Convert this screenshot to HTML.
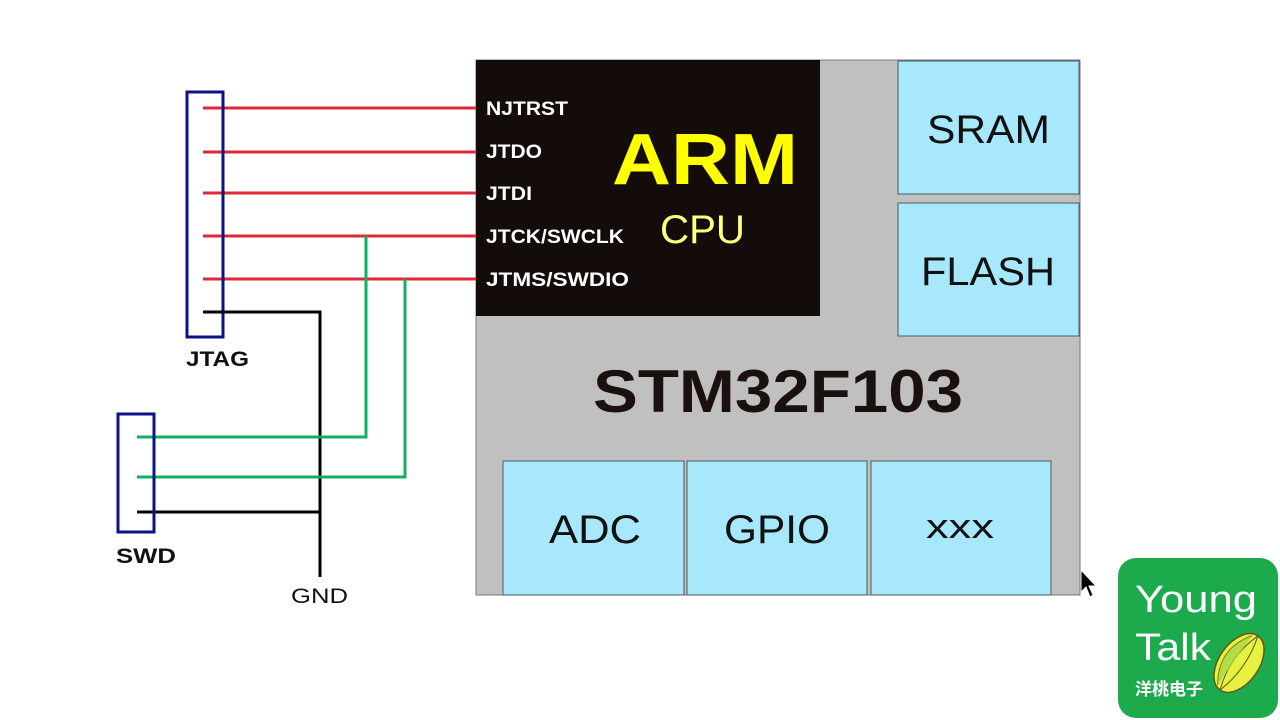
<!DOCTYPE html>
<html><head><meta charset="utf-8"><style>
html,body{margin:0;padding:0;background:#fff;}
svg{display:block;}
</style></head><body>
<svg width="1280" height="720" viewBox="0 0 1280 720" xmlns="http://www.w3.org/2000/svg" font-family="Liberation Sans, DejaVu Sans, sans-serif">
<rect width="1280" height="720" fill="#fff"/>
<!-- chip -->
<rect x="476" y="60" width="604" height="535" fill="#c0c0c0" stroke="#777" stroke-width="1"/>
<rect x="476" y="60" width="344" height="256" fill="#140c0a"/>
<rect x="898" y="61" width="181" height="133" fill="#a8e8fc" stroke="#4a5a60" stroke-width="1"/>
<rect x="898" y="203" width="181" height="133" fill="#a8e8fc" stroke="#4a5a60" stroke-width="1"/>
<rect x="503" y="461" width="181" height="134" fill="#a8e8fc" stroke="#4a5a60" stroke-width="1"/>
<rect x="687" y="461" width="180" height="134" fill="#a8e8fc" stroke="#4a5a60" stroke-width="1"/>
<rect x="871" y="461" width="180" height="134" fill="#a8e8fc" stroke="#4a5a60" stroke-width="1"/>
<g fill="#111" font-size="40">
<text x="927" y="143" textLength="123" lengthAdjust="spacingAndGlyphs">SRAM</text>
<text x="921" y="285" textLength="134" lengthAdjust="spacingAndGlyphs">FLASH</text>
<text x="549" y="543" textLength="92" lengthAdjust="spacingAndGlyphs">ADC</text>
<text x="724" y="543" textLength="106" lengthAdjust="spacingAndGlyphs">GPIO</text>
<text x="926" y="538" font-size="34" textLength="68" lengthAdjust="spacingAndGlyphs">xxx</text>
</g>
<text x="593" y="412" font-size="60" font-weight="bold" fill="#1a1010" textLength="370" lengthAdjust="spacingAndGlyphs">STM32F103</text>
<text x="612" y="184" font-size="72" font-weight="bold" fill="#ffff00" textLength="186" lengthAdjust="spacingAndGlyphs">ARM</text>
<text x="660" y="243" font-size="40" fill="#ffff80" textLength="85" lengthAdjust="spacingAndGlyphs">CPU</text>
<g fill="#fff" font-size="19" font-weight="bold">
<text x="486" y="115" textLength="82" lengthAdjust="spacingAndGlyphs">NJTRST</text>
<text x="486" y="158" textLength="56" lengthAdjust="spacingAndGlyphs">JTDO</text>
<text x="486" y="200" textLength="46" lengthAdjust="spacingAndGlyphs">JTDI</text>
<text x="486" y="243" textLength="138" lengthAdjust="spacingAndGlyphs">JTCK/SWCLK</text>
<text x="486" y="286" textLength="143" lengthAdjust="spacingAndGlyphs">JTMS/SWDIO</text>
</g>
<!-- JTAG -->
<g stroke="#dc2a34" stroke-width="3">
<line x1="203" y1="108" x2="476" y2="108"/>
<line x1="203" y1="152" x2="476" y2="152"/>
<line x1="203" y1="193" x2="476" y2="193"/>
<line x1="203" y1="236" x2="476" y2="236"/>
<line x1="203" y1="279" x2="476" y2="279"/>
</g>
<rect x="187" y="92" width="36" height="245" fill="none" stroke="#0e0f8a" stroke-width="3"/>
<text x="186" y="366" font-size="21" font-weight="bold" fill="#111" textLength="63" lengthAdjust="spacingAndGlyphs">JTAG</text>
<!-- black GND -->
<polyline points="203,312 320,312 320,577" fill="none" stroke="#000" stroke-width="3"/>
<line x1="137" y1="512" x2="320" y2="512" stroke="#000" stroke-width="3"/>
<!-- green -->
<polyline points="366,236 366,437 137,437" fill="none" stroke="#10b060" stroke-width="3"/>
<polyline points="405,279 405,477 137,477" fill="none" stroke="#10b060" stroke-width="3"/>
<rect x="118" y="414" width="36" height="118" fill="none" stroke="#0e0f8a" stroke-width="3"/>
<text x="116" y="563" font-size="21" font-weight="bold" fill="#111" textLength="60" lengthAdjust="spacingAndGlyphs">SWD</text>
<text x="291" y="603" font-size="21" fill="#111" textLength="57" lengthAdjust="spacingAndGlyphs">GND</text>
<!-- cursor -->
<path d="M1081,570 L1081,592 L1086,587 L1090,597 L1093,595 L1089,586 L1096,586 Z" fill="#000" stroke="#fff" stroke-width="1"/>
<!-- logo -->
<rect x="1118" y="558" width="160" height="160" rx="18" fill="#1daa4c"/>
<text x="1135" y="612" font-size="38" fill="#fff" textLength="122" lengthAdjust="spacingAndGlyphs">Young</text>
<text x="1135" y="660" font-size="38" fill="#fff" textLength="76" lengthAdjust="spacingAndGlyphs">Talk</text>
<text x="1135" y="695" font-size="17" font-weight="bold" fill="#fff" font-family="Noto Sans CJK SC, sans-serif">洋桃电子</text>
<g transform="translate(1239,663) rotate(-55)">
<ellipse cx="0" cy="0" rx="33" ry="20" fill="#e8f040" stroke="#5a5a20" stroke-width="1.5"/>
<path d="M-33,0 Q0,-12 33,0" fill="none" stroke="#5a5a20" stroke-width="1"/>
<path d="M-33,0 Q0,10 33,0" fill="none" stroke="#5a5a20" stroke-width="1"/>
<path d="M-30,-5 Q0,-26 30,-5" fill="#a8d848" stroke="#5a5a20" stroke-width="1" opacity="0.8"/>
</g>
</svg>
</body></html>
